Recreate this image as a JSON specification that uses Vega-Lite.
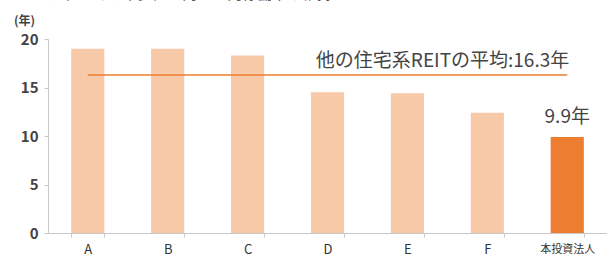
{
  "$schema": "https://vega.github.io/schema/vega-lite/v6.json",
  "autosize": "none",
  "width": 559,
  "height": 194,
  "padding": {"left": 48, "top": 39, "right": 0, "bottom": 24},
  "background": "white",
  "config": {"view": {"stroke": null}, "font": "Noto Sans CJK JP"},
  "title": {"text": "・マーケットでの希少性が高く、高稼働率を維持", "anchor": "start", "frame": "group", "dx": -46, "offset": -3, "fontSize": 15, "fontWeight": "normal", "color": "#555", "font": "Noto Sans CJK JP", "baseline": "bottom"},
  "layer": [
    {
      "data": {"values": [
        {"name": "A", "years": 19.0, "self": "no"},
        {"name": "B", "years": 19.0, "self": "no"},
        {"name": "C", "years": 18.3, "self": "no"},
        {"name": "D", "years": 14.5, "self": "no"},
        {"name": "E", "years": 14.4, "self": "no"},
        {"name": "F", "years": 12.4, "self": "no"},
        {"name": "本投資法人", "years": 9.9, "self": "yes"}
      ]},
      "layer": [
        {
          "mark": {"type": "bar"},
          "encoding": {
            "x": {"field": "name", "type": "nominal", "sort": null,
              "scale": {"paddingInner": 0.585, "paddingOuter": 0.29},
              "axis": {"title": null, "labelAngle": 0, "domainColor": "#c8c8c8", "tickColor": "#c8c8c8", "tickBand": "extent", "tickSize": 4, "labelPadding": 6,
                "labelFontSize": {"expr": "datum.value === '本投資法人' ? 11 : 13"}, "labelColor": "#333", "labelFont": "Noto Sans CJK JP"}},
            "y": {"field": "years", "type": "quantitative", "scale": {"domain": [0, 20]},
              "axis": {"values": [0, 5, 10, 15, 20], "grid": false, "domainColor": "#c8c8c8", "tickColor": "#c8c8c8", "tickSize": 4, "labelPadding": 6, "labelFontSize": 15, "labelColor": "#444", "labelFontWeight": "bold",
                "title": "(年)", "titleAngle": 0, "titleX": -24, "titleY": -19, "titleAlign": "center", "titleBaseline": "middle", "titleFontSize": 12, "titleFontWeight": "bold", "titleColor": "#444"}},
            "color": {"field": "self", "type": "nominal", "scale": {"domain": ["no", "yes"], "range": ["#F8C9A8", "#ED7D31"]}, "legend": null}
          }
        },
        {
          "transform": [{"filter": "datum.self === 'yes'"}],
          "mark": {"type": "text", "dy": -10, "fontSize": 19, "fontWeight": 400, "color": "#444", "baseline": "bottom"},
          "encoding": {
            "x": {"field": "name", "type": "nominal", "sort": null},
            "y": {"field": "years", "type": "quantitative"},
            "text": {"value": "9.9年"}
          }
        }
      ]
    },
    {
      "data": {"values": [{"from": "A", "to": "本投資法人", "avg": 16.3, "label": "他の住宅系REITの平均:16.3年"}]},
      "layer": [
        {
          "mark": {"type": "rule", "color": "#ED7D31", "strokeWidth": 1.5},
          "encoding": {
            "x": {"field": "from", "type": "nominal", "sort": null},
            "x2": {"field": "to"},
            "y": {"field": "avg", "type": "quantitative"}
          }
        },
        {
          "mark": {"type": "text", "align": "right", "baseline": "bottom", "dy": -4, "dx": 2, "fontSize": 19, "fontWeight": 400, "color": "#444"},
          "encoding": {
            "x": {"field": "to", "type": "nominal", "sort": null},
            "y": {"field": "avg", "type": "quantitative"},
            "text": {"field": "label"}
          }
        }
      ]
    }
  ]
}
